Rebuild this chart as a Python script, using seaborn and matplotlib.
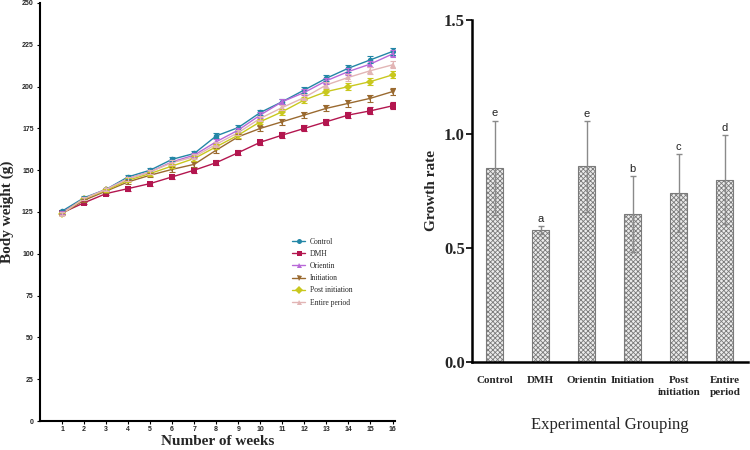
import numpy as np
import pandas as pd
import matplotlib
matplotlib.use("Agg")
import matplotlib.pyplot as plt
import seaborn as sns

# ---------------- data ----------------
weeks = list(range(1, 17))
groups = ["Control", "DMH", "Orientin", "Initiation", "Post initiation", "Entire period"]
control = [125.5, 133.5, 138.5, 146, 150, 156.5, 160, 170.5, 175.5, 184.5, 191, 198, 205, 211, 216, 221]
dmh = [124.5, 130.5, 136, 139, 142, 146, 150, 154.5, 160.5, 166.7, 171, 175, 179, 183, 185.5, 188.5]
orientin = [124.5, 133, 138.5, 145, 149, 155, 159, 167, 174, 183, 191, 196.5, 203.5, 209, 213.5, 219.5]
initiation = [124, 132, 137.5, 143, 147, 150.5, 153.5, 162, 170, 175, 179, 183, 187, 190, 193, 197]
post_init = [124, 133, 138, 144, 148, 152.5, 157, 164, 171, 179, 185, 192, 197, 200, 203, 207]
entire = [124, 133, 138.5, 145, 149, 154.5, 158, 165.5, 172.5, 181, 187.5, 193.5, 201, 205.5, 209.5, 213]
sem = [0.8, 1.0, 1.0, 1.2, 1.2, 1.3, 1.4, 1.5, 1.5, 1.6, 1.7, 1.8, 1.8, 2.0, 2.0, 2.1]
y_ticks_left = [0, 25, 50, 75, 100, 125, 150, 175, 200, 225, 250]

bar_labels = ["Control", "DMH", "Orientin", "Initiation", "Post\ninitiation", "Entire\nperiod"]
growth = [0.851, 0.579, 0.857, 0.648, 0.740, 0.798]
growth_err = [0.207, 0.017, 0.200, 0.165, 0.171, 0.195]
letters = ["e", "a", "e", "b", "c", "d"]
y_ticks_right = [0.0, 0.5, 1.0, 1.5]

colors = ["#2386a6", "#b3164f", "#b869d8", "#9a6a30", "#c9c81e", "#e2b5b5"]
markers = ["o", "s", "^", "v", "D", "^"]

# ---------------- figure ----------------
sns.set_theme(style="white")
plt.rcParams["hatch.linewidth"] = 0.6
serif = ["Liberation Serif", "DejaVu Serif"]
sans = ["Liberation Sans", "DejaVu Sans"]

fig = plt.figure(figsize=(7.5, 4.5), dpi=100)
ax1 = fig.add_axes([0.0533, 0.0644, 0.473, 0.929])
ax2 = fig.add_axes([0.629, 0.196, 0.368, 0.76])

series = [control, dmh, orientin, initiation, post_init, entire]
df = pd.DataFrame({
    "week": weeks * len(groups),
    "weight": sum(series, []),
    "group": sum([[g] * len(weeks) for g in groups], []),
})

sns.lineplot(data=df, x="week", y="weight", hue="group", style="group",
             hue_order=groups, style_order=groups, palette=colors,
             markers=markers, dashes=False, markersize=4, linewidth=1.0,
             markeredgewidth=0, ax=ax1, legend=True)
for vals, c in zip(series, colors):
    ax1.errorbar(weeks, vals, yerr=sem, fmt="none", ecolor=c, elinewidth=0.8,
                 capsize=2, capthick=0.8)

ax1.set_xlim(0, 16.1)
ax1.set_ylim(0, 250)
ax1.set_xticks(weeks)
ax1.set_yticks(y_ticks_left)
for s in ["top", "right"]:
    ax1.spines[s].set_visible(False)
for s in ["left", "bottom"]:
    ax1.spines[s].set_color("black")
    ax1.spines[s].set_linewidth(1.5)
ax1.tick_params(axis="both", which="major", length=2.5, width=0.8, color="black",
                bottom=True, left=True, pad=2)
ax1.tick_params(axis="x", pad=1)
for lab in ax1.get_xticklabels() + ax1.get_yticklabels():
    lab.set_fontfamily(sans)
    lab.set_fontweight("bold")
    lab.set_fontsize(5)
ax1.set_xlabel("Number of weeks", fontfamily=serif, fontweight="bold", fontsize=11)
ax1.xaxis.set_label_coords(0.5, -0.033)
ax1.set_ylabel("Body weight (g)", fontfamily=serif, fontweight="bold", fontsize=11, labelpad=6)

leg = ax1.legend(loc="upper left", bbox_to_anchor=(0.69, 0.455), frameon=False,
                 prop={"family": serif, "size": 5.5}, handlelength=1.8,
                 handletextpad=0.6, labelspacing=0.55, markerscale=0.9)

# ---------------- bar chart ----------------
bdf = pd.DataFrame({"group": bar_labels, "rate": growth})
sns.barplot(data=bdf, x="group", y="rate", order=bar_labels, color="white",
            width=0.37, edgecolor="#7a7a7a", linewidth=0.8, hatch="xxxxxxx",
            ax=ax2)
for p in ax2.patches:
    p.set_facecolor("#ececec")
    p.set_hatch("xxxxxxx")
ax2.errorbar(range(len(growth)), growth, yerr=growth_err, fmt="none",
             ecolor="#8a8a8a", elinewidth=1.0, capsize=2, capthick=1.0)
for i, (v, e, t) in enumerate(zip(growth, growth_err, letters)):
    ax2.text(i, v + e + 0.01, t, ha="center", va="bottom", fontsize=8,
             fontfamily=sans, color="#222222")

ax2.set_xlim(-0.5, 5.5)
ax2.set_ylim(0, 1.5)
ax2.set_yticks(y_ticks_right)
ax2.set_yticklabels(["0.0", "0.5", "1.0", "1.5"])
for s in ["top", "right"]:
    ax2.spines[s].set_visible(False)
for s in ["left", "bottom"]:
    ax2.spines[s].set_color("black")
    ax2.spines[s].set_linewidth(1.8)
ax2.tick_params(axis="y", length=4, width=1.2, color="black", left=True, pad=1)
ax2.tick_params(axis="x", length=0, pad=10)
for lab in ax2.get_yticklabels():
    lab.set_fontfamily(serif)
    lab.set_fontweight("bold")
    lab.set_fontsize(12)
for lab in ax2.get_xticklabels():
    lab.set_fontfamily(serif)
    lab.set_fontweight("bold")
    lab.set_fontsize(8)
    lab.set_linespacing(1.5)
ax2.set_xlabel("Experimental Grouping", fontfamily=serif, fontsize=12, labelpad=14)
ax2.set_ylabel("Growth rate", fontfamily=serif, fontweight="bold", fontsize=11, labelpad=4)

fig.savefig("out.png", dpi=100)
